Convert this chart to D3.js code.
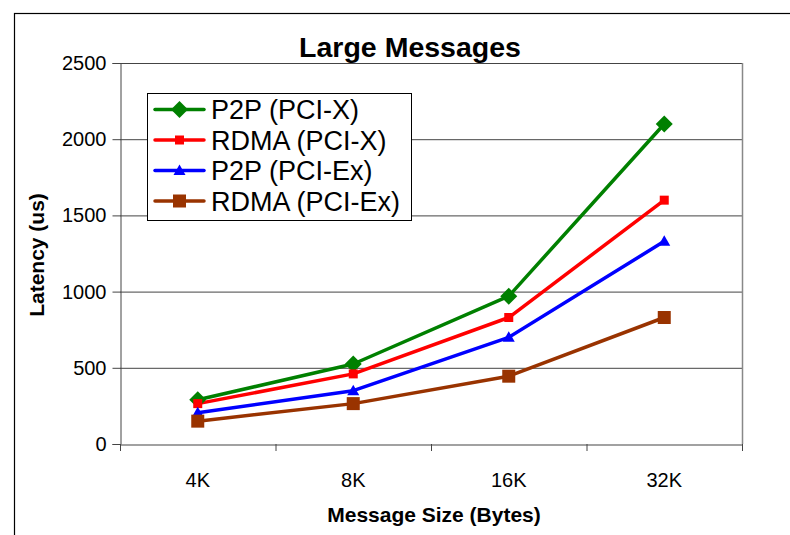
<!DOCTYPE html>
<html><head><meta charset="utf-8">
<script src="https://cdn.jsdelivr.net/npm/d3@7"></script>
<style>body{margin:0;background:#fff}svg{display:block}text{font-family:"Liberation Sans",Arial,sans-serif}</style>
</head><body>
<script>
const categories = ["4K","8K","16K","32K"];
const seriesNames = ["P2P (PCI-X)","RDMA (PCI-X)","P2P (PCI-Ex)","RDMA (PCI-Ex)"];
const p2pPciX = [290, 525, 970, 2100];
const rdmaPciX = [265, 460, 830, 1600];
const p2pPciEx = [205, 350, 700, 1330];
const rdmaPciEx = [150, 265, 445, 830];
const yTicks = [0, 500, 1000, 1500, 2000, 2500];
const colors = ["#008000","#ff0000","#0000ff","#993300"];
const markers = ["diamond","smallsquare","triangle","square"];

const series = seriesNames.map((n,i)=>({name:n, values:[p2pPciX,rdmaPciX,p2pPciEx,rdmaPciEx][i], color:colors[i], marker:markers[i]}));

const W=790,H=535;
const FONT="'Liberation Sans',Arial,sans-serif";
const svg = d3.select("body").append("svg").attr("width",W).attr("height",H);
svg.append("rect").attr("x",14.5).attr("y",13.5).attr("width",W+10).attr("height",H+10).attr("fill","#fff").attr("stroke","#000").attr("stroke-width",1.2);

const L=120,R=742,T=63,B=444;
const x = d3.scaleBand().domain(categories).range([L,R]);
const y = d3.scaleLinear().domain([0,2500]).range([B,T]);

// gridlines
svg.append("g").selectAll("line").data(yTicks.filter(d=>d>0)).join("line")
  .attr("x1",L).attr("x2",R).attr("y1",d=>y(d)+0.5).attr("y2",d=>y(d)+0.5)
  .attr("stroke","#444").attr("stroke-width",1);
svg.append("line").attr("x1",R+0.5).attr("x2",R+0.5).attr("y1",T).attr("y2",B).attr("stroke","#888").attr("stroke-width",1.5);

// axes
const yAxis = svg.append("g").attr("transform",`translate(${L+0.5},0)`)
  .call(d3.axisLeft(y).tickValues(yTicks).tickSize(8).tickPadding(6).tickFormat(d3.format("d")));
yAxis.select(".domain").attr("stroke","#444");
yAxis.selectAll("line").attr("stroke","#444");
yAxis.selectAll("text").attr("font-size",20).attr("fill","#000").style("font-family",FONT);

const xAxis = svg.append("g").attr("transform",`translate(0,${B+0.5})`)
  .call(d3.axisBottom(x).tickSize(0).tickPadding(28));
xAxis.select(".domain").attr("stroke","#444").attr("stroke-width",1.2);
xAxis.selectAll("text").attr("font-size",20).attr("fill","#000").style("font-family",FONT);
const bounds = categories.map(c=>x(c)).concat([R]);
svg.append("g").selectAll("line").data(bounds).join("line")
  .attr("x1",d=>d+0.5).attr("x2",d=>d+0.5).attr("y1",B).attr("y2",B+7).attr("stroke","#444");

// lines
const line = d3.line().x((d,i)=>x(categories[i])+x.bandwidth()/2).y(d=>y(d));
const g = svg.append("g");
series.forEach(s=>{
  g.append("path").datum(s.values).attr("d",line).attr("fill","none").attr("stroke",s.color).attr("stroke-width",3.5).attr("stroke-linejoin","round");
});
function marker(sel, type, color, cx, cy, scale=1){
  if(type==="diamond"){
    const r=8.5*scale;
    sel.append("path").attr("d",`M${cx},${cy-r}L${cx+r},${cy}L${cx},${cy+r}L${cx-r},${cy}Z`).attr("fill",color);
  } else if(type==="smallsquare"){
    const r=4.5*scale;
    sel.append("rect").attr("x",cx-r).attr("y",cy-r).attr("width",2*r).attr("height",2*r).attr("fill",color);
  } else if(type==="triangle"){
    const r=6*scale;
    sel.append("path").attr("d",`M${cx},${cy-r}L${cx+r},${cy+r*0.75}L${cx-r},${cy+r*0.75}Z`).attr("fill",color);
  } else {
    const r=6.5*scale;
    sel.append("rect").attr("x",cx-r).attr("y",cy-r).attr("width",2*r).attr("height",2*r).attr("fill",color);
  }
}
series.forEach(s=>{
  s.values.forEach((v,i)=>marker(g, s.marker, s.color, x(categories[i])+x.bandwidth()/2, y(v)));
});

// legend
const lg = svg.append("g");
lg.append("rect").attr("x",147.5).attr("y",93.5).attr("width",264).attr("height",127).attr("fill","#fff").attr("stroke","#000").attr("stroke-width",1);
series.forEach((s,i)=>{
  const cy = 109.5 + i*30.5;
  lg.append("line").attr("x1",155).attr("x2",204).attr("y1",cy).attr("y2",cy).attr("stroke",s.color).attr("stroke-width",3.5).attr("stroke-linecap","round");
  marker(lg, s.marker, s.color, 179.5, cy);
  lg.append("text").attr("x",211).attr("y",cy+9.5).attr("font-size",27).text(s.name);
});

// titles
svg.append("text").attr("x",410).attr("y",57).attr("text-anchor","middle").attr("font-size",28.5).attr("font-weight","bold").text("Large Messages");
svg.append("text").attr("x",434).attr("y",522).attr("text-anchor","middle").attr("font-size",21).attr("font-weight","bold").text("Message Size (Bytes)");
svg.append("text").attr("transform","translate(44,255) rotate(-90)").attr("text-anchor","middle").attr("font-size",21).attr("font-weight","bold").text("Latency (us)");
</script>
</body></html>
